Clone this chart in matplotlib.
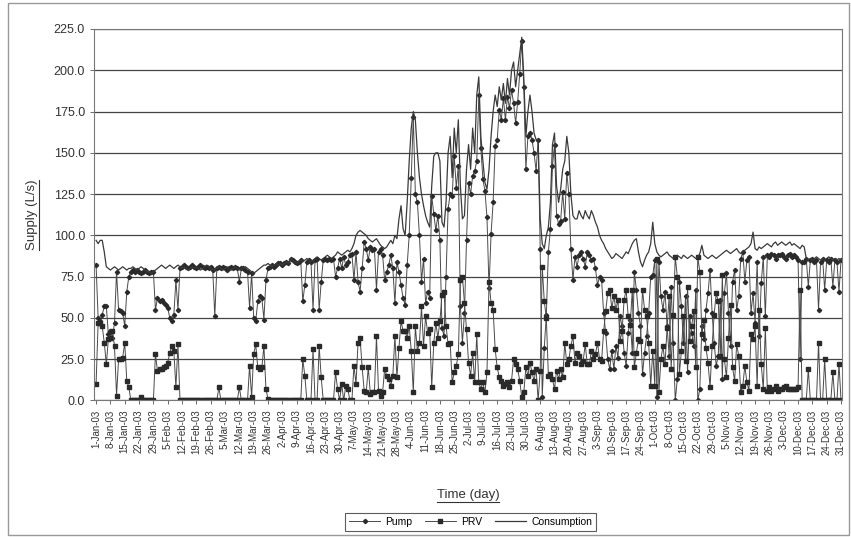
import numpy as np
import pandas as pd
import matplotlib
matplotlib.use('Agg')
import matplotlib.pyplot as plt
from matplotlib.lines import Line2D
from matplotlib.patches import Rectangle

plt.rcParams['font.family'] = ['Liberation Sans', 'DejaVu Sans']

# daily values for 2003 (L/s)
pump = [
    82, 50, 48, 52, 57, 57, 40, 42, 38, 47, 78, 55, 54, 53, 45, 66, 75, 78, 79, 78, 79, 78, 77, 78, 79, 78, 77, 78, 78, 55, 62,  # Jan
    60, 61, 59, 58, 56, 50, 48, 52, 73, 55, 80, 81, 82, 81, 80, 81, 82, 81, 80, 81, 82, 81, 80, 81, 80, 81, 79, 51,  # Feb
    80, 81, 80, 81, 80, 79, 80, 81, 80, 81, 80, 72, 80, 80, 79, 78, 56, 77, 50, 48, 60, 63, 62, 49, 73, 80, 81, 82, 81, 82, 83,  # Mar
    83, 82, 83, 84, 83, 86, 85, 84, 83, 84, 85, 60, 70, 84, 85, 84, 55, 85, 86, 55, 72, 85, 86, 85, 86, 85, 86, 75, 80, 86,  # Apr
    80, 87, 82, 84, 88, 89, 73, 90, 72, 66, 80, 96, 92, 85, 93, 91, 92, 67, 90, 92, 88, 73, 78, 82, 88, 80, 59, 84, 78, 70, 62,  # May
    58, 82, 100, 135, 172, 125, 120, 100, 72, 86, 59, 66, 62, 124, 113, 103, 112, 97, 44, 39, 75, 116, 125, 124, 148, 129, 142, 57, 35, 53,  # Jun
    97, 132, 125, 136, 139, 145, 185, 153, 134, 127, 111, 68, 101, 120, 154, 158, 176, 170, 183, 170, 184, 177, 188, 180, 168, 181, 198, 218, 190, 140, 160,  # Jul
    162, 158, 150, 139, 158, 92, 2, 32, 52, 90, 104, 142, 155, 112, 107, 109, 126, 110, 138, 125, 92, 73, 87, 81, 88, 90, 86, 81, 90, 88, 85,  # Aug
    86, 80, 70, 75, 73, 53, 41, 25, 19, 30, 19, 33, 26, 51, 45, 29, 21, 41, 49, 29, 78, 67, 53, 45, 16, 29, 39, 53, 75, 76,  # Sep
    85, 2, 84, 63, 55, 66, 45, 27, 69, 35, 0, 13, 72, 57, 35, 63, 17, 51, 41, 33, 67, 0, 7, 45, 37, 55, 65, 79, 53, 35, 21,  # Oct
    27, 61, 13, 65, 77, 53, 33, 72, 79, 55, 63, 86, 90, 72, 85, 87, 53, 65, 47, 84, 39, 71, 87, 51, 88, 87, 89, 88, 86, 88,  # Nov
    88, 89, 87, 86, 88, 89, 87, 88, 87, 85, 25, 84, 84, 86, 69, 85, 86, 84, 85, 55, 84, 86, 67, 85, 84, 86, 69, 85, 84, 66, 85,  # Dec
]

prv = [
    10, 47, 47, 45, 35, 22, 37, 38, 42, 33, 3, 25, 25, 26, 35, 12, 8, 0, 0, 0, 0, 0, 2, 0, 0, 0, 0, 0, 0, 28, 18,  # Jan
    19, 19, 20, 21, 23, 29, 33, 30, 8, 34, 0, 0, 0, 0, 0, 0, 0, 0, 0, 0, 0, 0, 0, 0, 0, 0, 0, 0,  # Feb
    0, 8, 0, 0, 0, 0, 0, 0, 0, 0, 0, 8, 0, 0, 0, 0, 21, 2, 28, 34, 20, 19, 20, 33, 7, 1, 0, 0, 0, 0, 0,  # Mar
    0, 0, 0, 0, 0, 0, 0, 0, 0, 0, 0, 25, 15, 0, 0, 0, 31, 0, 0, 33, 14, 0, 0, 0, 0, 0, 0, 17, 7, 0,  # Apr
    10, 0, 9, 7, 0, 0, 21, 10, 35, 38, 20, 6, 5, 20, 4, 5, 5, 39, 6, 3, 5, 19, 15, 13, 9, 15, 39, 14, 32, 48, 42,  # May
    42, 38, 45, 30, 5, 45, 30, 35, 57, 33, 51, 41, 43, 8, 35, 47, 38, 48, 64, 66, 45, 34, 35, 11, 17, 21, 28, 73, 75, 59,  # Jun
    43, 23, 15, 29, 11, 40, 11, 7, 11, 5, 17, 72, 59, 55, 31, 20, 14, 12, 9, 10, 11, 8, 12, 25, 22, 19, 12, 2, 5, 20, 15,  # Jul
    23, 17, 12, 19, 0, 18, 81, 60, 50, 15, 16, 13, 7, 18, 13, 19, 14, 35, 22, 25, 33, 39, 23, 29, 27, 22, 24, 34, 22, 22, 30,  # Aug
    25, 28, 35, 25, 24, 42, 54, 65, 67, 56, 63, 55, 61, 36, 42, 61, 67, 51, 46, 67, 20, 29, 37, 36, 67, 55, 51, 35, 9, 30,  # Sep
    9, 86, 5, 25, 33, 22, 44, 63, 19, 52, 87, 75, 16, 30, 51, 24, 69, 36, 45, 54, 20, 87, 78, 40, 49, 32, 23, 8, 33, 52, 65,  # Oct
    60, 27, 76, 25, 14, 38, 58, 20, 12, 34, 27, 5, 9, 21, 11, 6, 40, 37, 45, 9, 55, 22, 7, 44, 6, 8, 6, 7, 9, 6,  # Nov
    7, 7, 8, 9, 7, 7, 7, 7, 7, 8, 67, 0, 0, 0, 19, 0, 0, 0, 0, 35, 0, 0, 25, 0, 0, 0, 17, 0, 0, 22, 0,  # Dec
]

consumption = [
    97, 95, 97, 97, 90, 81, 80, 79, 80, 81, 80, 79, 80, 81, 80, 79, 80, 80, 81, 80, 79, 80, 81, 80, 79, 78, 78, 77, 78, 79, 80,  # Jan
    81, 82, 81, 80, 81, 82, 81, 80, 81, 82, 81, 80, 81, 80, 79, 80, 81, 80, 81, 80, 79, 80, 81, 82, 81, 80, 79, 80,  # Feb
    80, 81, 80, 79, 80, 81, 80, 79, 80, 81, 80, 79, 80, 80, 81, 80, 79, 78, 77, 78, 79, 80, 81, 82, 82, 83, 82, 81, 82, 83, 82,  # Mar
    83, 82, 83, 84, 83, 86, 85, 84, 83, 84, 85, 84, 85, 86, 85, 84, 85, 86, 87, 86, 85, 86, 87, 88, 87, 86, 87, 88, 90, 89,  # Apr
    88, 89, 90, 91, 90, 92, 95, 100, 102, 103, 102, 101, 100, 98, 97, 96, 97, 98, 96, 94, 93, 92, 93, 95, 97, 95, 100, 98, 110, 118, 104,  # May
    100, 120, 145, 165, 175, 170, 150, 135, 125, 118, 112, 108, 105, 130, 148, 150, 150, 145, 108, 105, 120, 150, 160, 135, 165, 150, 170, 130, 110, 112,  # Jun
    140, 155, 140, 165, 150, 185, 196, 160, 145, 132, 128, 140, 160, 175, 185, 178, 190, 182, 192, 180, 195, 185, 200, 205, 190, 200, 210, 220, 195, 160, 175,  # Jul
    185, 175, 162, 158, 158, 110, 95, 92, 100, 105, 120, 155, 162, 130, 120, 128, 140, 145, 160, 150, 125, 112, 110, 110, 115, 112, 110, 115, 112, 110, 115,  # Aug
    112, 108, 105, 100, 97, 95, 92, 90, 88, 86, 87, 89, 88, 87, 86, 88, 90, 89, 92, 95, 97, 98, 90, 84, 81, 85, 88, 90, 95, 108,  # Sep
    95, 90, 88, 87, 88, 89, 90, 88, 87, 86, 87, 88, 87, 86, 88, 87, 86, 87, 88, 87, 86, 87, 89, 94, 88, 87, 86, 87, 88, 87, 86,  # Oct
    87, 88, 89, 90, 91, 90, 89, 90, 91, 92, 90, 89, 90, 91, 92, 93, 95, 102, 92, 91, 93, 92, 93, 94, 95, 94, 93, 95, 96, 94,  # Nov
    95, 96, 95, 94, 95, 96, 94, 95, 94, 93, 92, 94, 93, 86, 85, 86, 85, 86, 87, 86, 85, 86, 85, 86, 87, 86, 85, 86, 85, 86, 85,  # Dec
]

dates = pd.date_range('2003-01-01', periods=len(consumption), freq='D')
day = np.arange(len(dates))
tick_pos = day[::7]
tick_labels = [f"{d.day}-{d.strftime('%b-%y')}" for d in dates[::7]]
y_ticks = np.arange(0, 226, 25)

fig = plt.figure(figsize=(8.51, 5.37), dpi=100)
ax = fig.add_axes([0.1105, 0.2542, 0.879, 0.6918])

ax.plot(day, pump, color='#4a4a4a', lw=0.7, marker='D', ms=2.2,
        mfc='#2a2a2a', mec='#2a2a2a', label='Pump')
ax.plot(day, prv, color='#4a4a4a', lw=0.7, marker='s', ms=2.8,
        mfc='#2a2a2a', mec='#2a2a2a', label='PRV')
ax.plot(day, consumption, color='#3a3a3a', lw=0.9, label='Consumption')

ax.set_xlim(-1, len(day) - 0.5)
ax.set_ylim(0, 225)
ax.set_yticks(y_ticks)
ax.set_yticklabels([f"{v:.1f}" for v in y_ticks], fontsize=9, color='#333333')
ax.set_xticks(tick_pos)
ax.set_xticklabels(tick_labels, rotation=90, fontsize=7, color='#333333')
ax.tick_params(axis='both', length=3, width=0.6, color='#555555')
ax.yaxis.grid(True, color='#444444', lw=0.9)
ax.set_axisbelow(True)
for s in ax.spines.values():
    s.set_color('#777777')
    s.set_linewidth(0.8)

ylab = fig.text(0.0376, 0.5996, 'Supply (L/s)', rotation=90, fontsize=9.5,
                ha='center', va='center', color='#333333')
xlab = fig.text(0.55, 0.078, 'Time (day)', fontsize=9.5,
                ha='center', va='center', color='#333333')

leg = fig.legend(loc='center', bbox_to_anchor=(0.553, 0.028), ncol=3, fontsize=7.5,
                 frameon=True, fancybox=False, edgecolor='#333333',
                 handlelength=3.0, columnspacing=1.2, borderpad=0.35, handletextpad=0.5)
leg.get_frame().set_linewidth(0.8)

# underline the axis titles like the original
fig.canvas.draw()
inv = fig.transFigure.inverted()
bb = ylab.get_window_extent().transformed(inv)
fig.add_artist(Line2D([bb.x1 + 0.001, bb.x1 + 0.001], [bb.y0, bb.y1],
                      transform=fig.transFigure, color='#333333', lw=0.8))
bb = xlab.get_window_extent().transformed(inv)
fig.add_artist(Line2D([bb.x0, bb.x1], [bb.y0 - 0.002, bb.y0 - 0.002],
                      transform=fig.transFigure, color='#333333', lw=0.8))

fig.add_artist(Rectangle((0.0094, 0.004), 0.988, 0.99, transform=fig.transFigure,
                         fill=False, ec='#999999', lw=1.0))

fig.savefig('out.png', dpi=100)
